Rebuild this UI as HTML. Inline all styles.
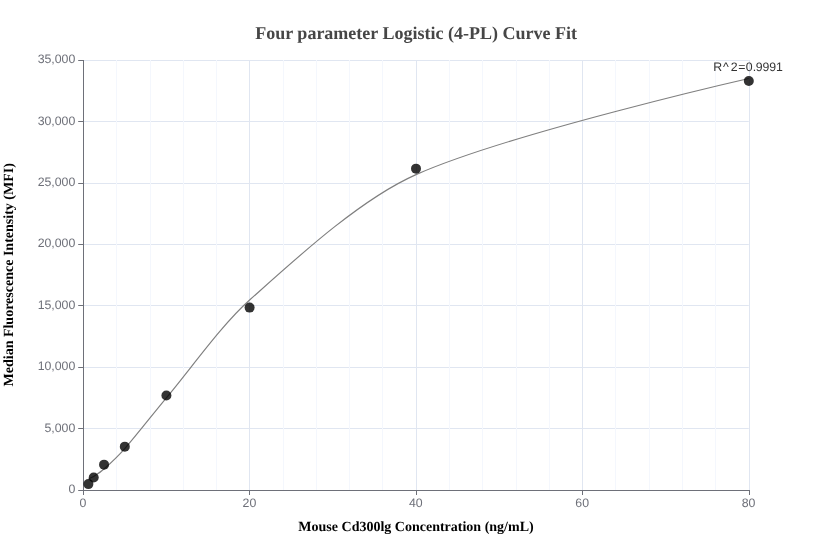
<!DOCTYPE html>
<html lang="en"><head><meta charset="utf-8"><title>Four parameter Logistic (4-PL) Curve Fit</title>
<style>html,body{margin:0;padding:0;background:#fff}svg{display:block;text-rendering:geometricPrecision}.al{font-family:"Liberation Sans",Arial,sans-serif;font-size:12.3px;fill:#6E7079}.nm{font-family:"Liberation Serif","Times New Roman",serif;font-weight:bold;font-size:14px;fill:#000}.tt{font-family:"Liberation Serif","Times New Roman",serif;font-weight:bold;font-size:18px;fill:#464646}.lb{font-family:"Liberation Sans",Arial,sans-serif;font-size:12.3px;fill:#333}</style></head><body>
<svg width="832" height="560" viewBox="0 0 832 560">
<rect width="832" height="560" fill="#fff"/>
<g stroke="#E0E6F1" stroke-width="1">
<line x1="83.5" y1="60" x2="83.5" y2="490"/>
<line x1="249.5" y1="60" x2="249.5" y2="490"/>
<line x1="416.5" y1="60" x2="416.5" y2="490"/>
<line x1="582.5" y1="60" x2="582.5" y2="490"/>
<line x1="749.5" y1="60" x2="749.5" y2="490"/>
<line x1="83.2" y1="490.5" x2="748.8" y2="490.5"/>
<line x1="83.2" y1="428.5" x2="748.8" y2="428.5"/>
<line x1="83.2" y1="367.5" x2="748.8" y2="367.5"/>
<line x1="83.2" y1="305.5" x2="748.8" y2="305.5"/>
<line x1="83.2" y1="244.5" x2="748.8" y2="244.5"/>
<line x1="83.2" y1="183.5" x2="748.8" y2="183.5"/>
<line x1="83.2" y1="121.5" x2="748.8" y2="121.5"/>
<line x1="83.2" y1="60.5" x2="748.8" y2="60.5"/>
</g>
<g stroke="#F4F7FD" stroke-width="1">
<line x1="116.5" y1="60" x2="116.5" y2="490"/>
<line x1="150.5" y1="60" x2="150.5" y2="490"/>
<line x1="183.5" y1="60" x2="183.5" y2="490"/>
<line x1="216.5" y1="60" x2="216.5" y2="490"/>
<line x1="283.5" y1="60" x2="283.5" y2="490"/>
<line x1="316.5" y1="60" x2="316.5" y2="490"/>
<line x1="349.5" y1="60" x2="349.5" y2="490"/>
<line x1="382.5" y1="60" x2="382.5" y2="490"/>
<line x1="449.5" y1="60" x2="449.5" y2="490"/>
<line x1="482.5" y1="60" x2="482.5" y2="490"/>
<line x1="516.5" y1="60" x2="516.5" y2="490"/>
<line x1="549.5" y1="60" x2="549.5" y2="490"/>
<line x1="615.5" y1="60" x2="615.5" y2="490"/>
<line x1="649.5" y1="60" x2="649.5" y2="490"/>
<line x1="682.5" y1="60" x2="682.5" y2="490"/>
<line x1="715.5" y1="60" x2="715.5" y2="490"/>
</g>
<g stroke="#6E7079" stroke-width="1">
<line x1="83.5" y1="60" x2="83.5" y2="491"/>
<line x1="83.2" y1="490.5" x2="749.8" y2="490.5"/>
<line x1="83.5" y1="490" x2="83.5" y2="495"/>
<line x1="249.5" y1="490" x2="249.5" y2="495"/>
<line x1="416.5" y1="490" x2="416.5" y2="495"/>
<line x1="582.5" y1="490" x2="582.5" y2="495"/>
<line x1="749.5" y1="490" x2="749.5" y2="495"/>
<line x1="78.2" y1="490.5" x2="83.2" y2="490.5"/>
<line x1="78.2" y1="428.5" x2="83.2" y2="428.5"/>
<line x1="78.2" y1="367.5" x2="83.2" y2="367.5"/>
<line x1="78.2" y1="305.5" x2="83.2" y2="305.5"/>
<line x1="78.2" y1="244.5" x2="83.2" y2="244.5"/>
<line x1="78.2" y1="183.5" x2="83.2" y2="183.5"/>
<line x1="78.2" y1="121.5" x2="83.2" y2="121.5"/>
<line x1="78.2" y1="60.5" x2="83.2" y2="60.5"/>
</g>
<g class="al" text-anchor="end">
<text x="75.3" y="493">0</text>
<text x="75.3" y="432">5,000</text>
<text x="75.3" y="370">10,000</text>
<text x="75.3" y="309">15,000</text>
<text x="75.3" y="247">20,000</text>
<text x="75.3" y="186">25,000</text>
<text x="75.3" y="125">30,000</text>
<text x="75.3" y="63">35,000</text>
</g>
<g class="al" text-anchor="middle">
<text x="83.0" y="507">0</text>
<text x="249.4" y="507">20</text>
<text x="415.8" y="507">40</text>
<text x="582.2" y="507">60</text>
<text x="748.6" y="507">80</text>
</g>
<text class="tt" x="416.1" y="38.8" text-anchor="middle">Four parameter Logistic (4-PL) Curve Fit</text>
<text class="nm" x="416" y="531" text-anchor="middle">Mouse Cd300lg Concentration (ng/mL)</text>
<text class="nm" transform="translate(12.7,274.8) rotate(-90)" text-anchor="middle">Median Fluorescence Intensity (MFI)</text>
<path d="M88.40 479.05C88.40 479.05 92.15 477.48 93.60 476.55C96.83 474.48 101.14 471.61 104.00 469.05C110.50 463.21 119.03 455.13 124.80 448.55C137.75 433.77 153.74 412.91 166.40 397.85C191.18 368.36 221.05 325.58 249.60 300.05C295.93 258.61 359.75 199.57 416.00 174.60C509.51 133.09 748.80 78.45 748.80 78.45" fill="none" stroke="#7f7f7f" stroke-width="1.15"/>
<g fill="#000" fill-opacity="0.8">
<circle cx="88.4" cy="484.10" r="5"/>
<circle cx="93.7" cy="477.45" r="5"/>
<circle cx="104.05" cy="464.65" r="5"/>
<circle cx="124.8" cy="446.65" r="5"/>
<circle cx="166.4" cy="395.45" r="5"/>
<circle cx="249.6" cy="307.60" r="5"/>
<circle cx="416" cy="168.65" r="5"/>
<circle cx="748.8" cy="81.00" r="5"/>
</g>
<text class="lb" x="713.3 723.1 730.7 738.3 745.8 752.8 755.8 762.5 769.2 776.0" y="70.5">R^2=0.9991</text>
</svg></body></html>
